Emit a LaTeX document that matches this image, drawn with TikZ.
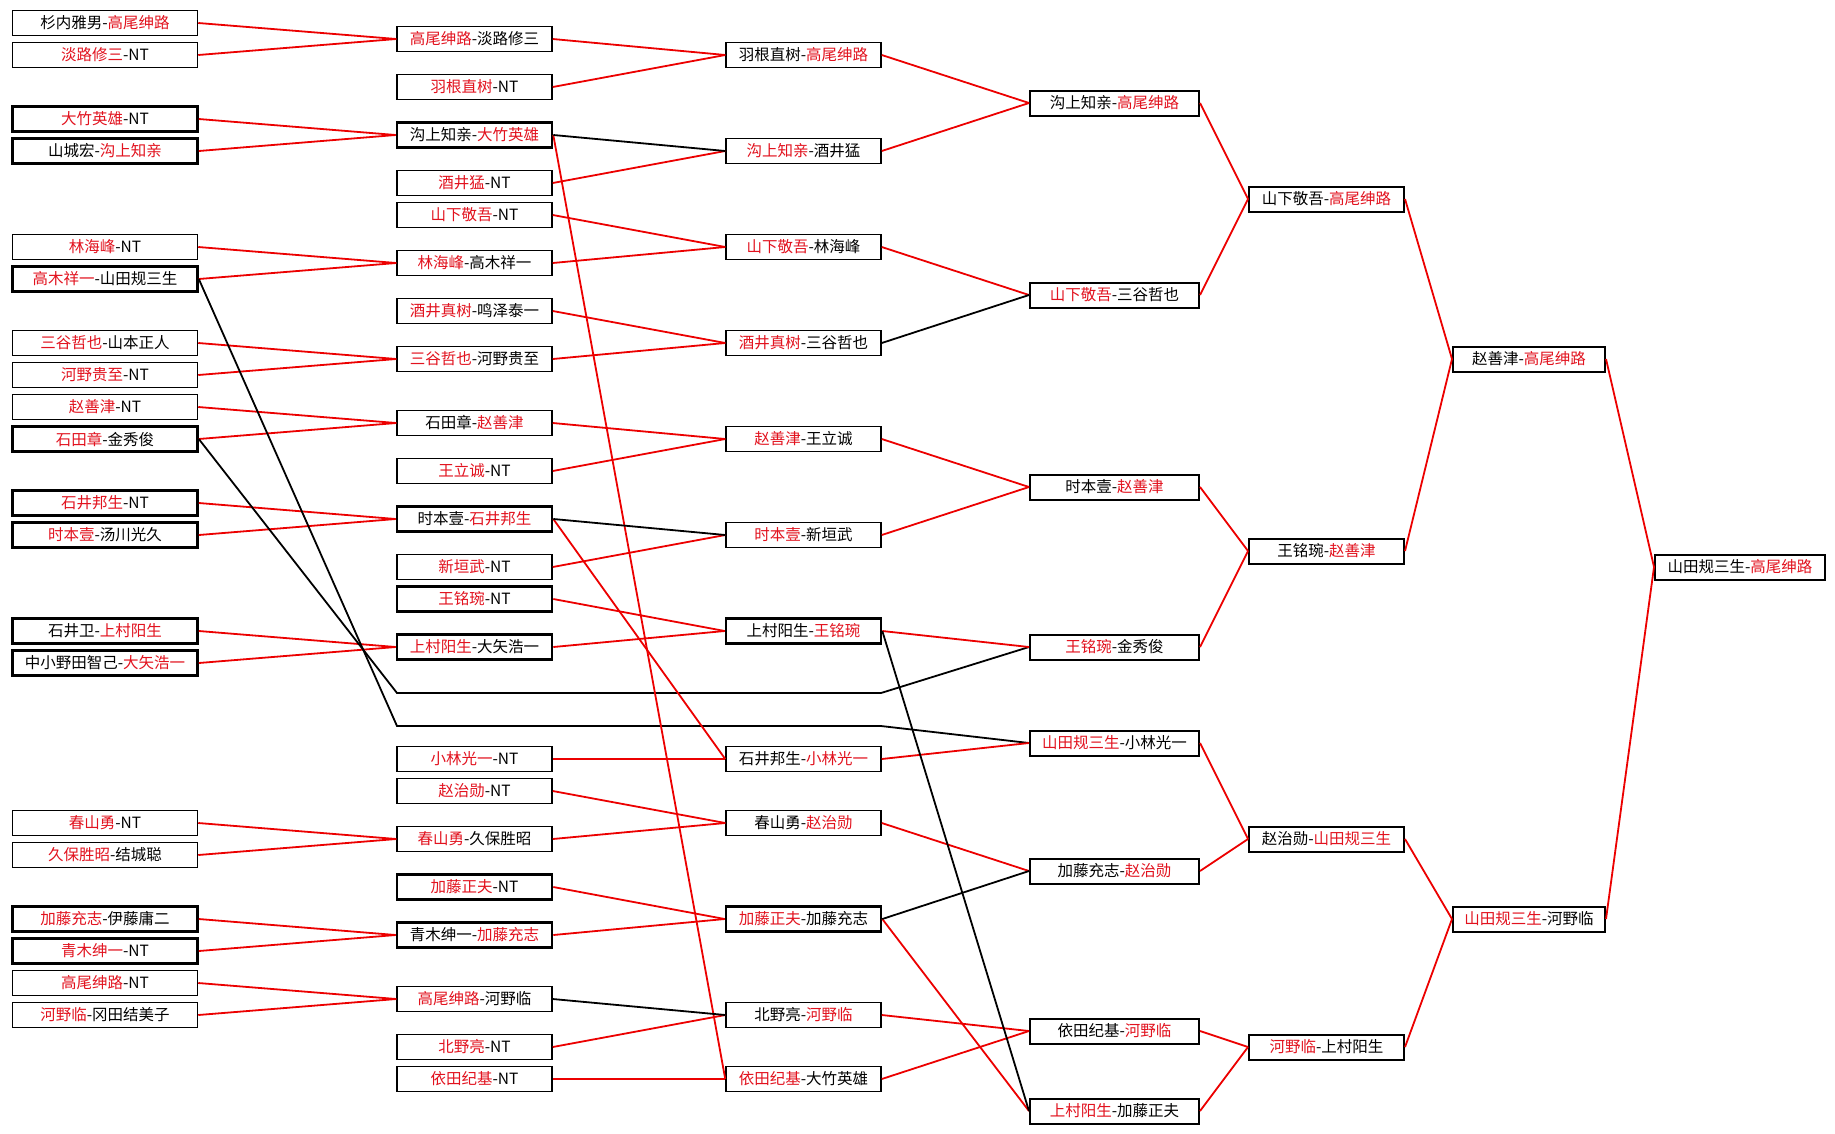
\documentclass[tikz,border=0pt]{standalone}
\usepackage{fontspec}
\setmainfont{Noto Sans CJK SC}
\definecolor{tred}{RGB}{226,18,30}
\definecolor{lred}{RGB}{236,0,0}
\newcommand{\R}[1]{\textcolor{tred}{#1}}
\begin{document}
\begin{tikzpicture}[x=1pt,y=-1pt,
  bx/.style={draw=black, fill=white, line width=1.5pt, minimum height=25pt, inner sep=0pt, font=\fontsize{15.5}{17}\selectfont},
  bxb/.style={bx, line width=2pt},
  thk/.style={line width=2.6pt},
  colA/.style={bx, minimum width=185pt},
  colB/.style={bx, minimum width=155pt},
  colC/.style={bx, minimum width=155pt},
  colD/.style={bxb, minimum width=169pt},
  colE/.style={bxb, minimum width=155pt},
  colF/.style={bxb, minimum width=152pt},
  colG/.style={bxb, minimum width=170pt},
  rl/.style={draw=lred, line width=1.8pt},
  kl/.style={draw=black, line width=1.8pt}]
\useasboundingbox[fill=white] (0,0) rectangle (1835,1133);

% column 1
\node[colA] (A1) at (105,23) {杉内雅男-\R{高尾绅路}};
\node[colA] (A2) at (105,55) {\R{淡路修三}-NT};
\node[colA,thk] (A3) at (105,119) {\R{大竹英雄}-NT};
\node[colA,thk] (A4) at (105,151) {山城宏-\R{沟上知亲}};
\node[colA] (A5) at (105,247) {\R{林海峰}-NT};
\node[colA,thk] (A6) at (105,279) {\R{高木祥一}-山田规三生};
\node[colA] (A7) at (105,343) {\R{三谷哲也}-山本正人};
\node[colA] (A8) at (105,375) {\R{河野贵至}-NT};
\node[colA] (A9) at (105,407) {\R{赵善津}-NT};
\node[colA,thk] (A10) at (105,439) {\R{石田章}-金秀俊};
\node[colA,thk] (A11) at (105,503) {\R{石井邦生}-NT};
\node[colA,thk] (A12) at (105,535) {\R{时本壹}-汤川光久};
\node[colA,thk] (A13) at (105,631) {石井卫-\R{上村阳生}};
\node[colA,thk] (A14) at (105,663) {中小野田智己-\R{大矢浩一}};
\node[colA] (A15) at (105,823) {\R{春山勇}-NT};
\node[colA] (A16) at (105,855) {\R{久保胜昭}-结城聪};
\node[colA,thk] (A17) at (105,919) {\R{加藤充志}-伊藤庸二};
\node[colA,thk] (A18) at (105,951) {\R{青木绅一}-NT};
\node[colA] (A19) at (105,983) {\R{高尾绅路}-NT};
\node[colA] (A20) at (105,1015) {\R{河野临}-冈田结美子};

% column 2
\node[colB] (B1) at (474.5,39) {\R{高尾绅路}-淡路修三};
\node[colB] (B2) at (474.5,87) {\R{羽根直树}-NT};
\node[colB,thk] (B3) at (474.5,135) {沟上知亲-\R{大竹英雄}};
\node[colB] (B4) at (474.5,183) {\R{酒井猛}-NT};
\node[colB] (B5) at (474.5,215) {\R{山下敬吾}-NT};
\node[colB] (B6) at (474.5,263) {\R{林海峰}-高木祥一};
\node[colB] (B7) at (474.5,311) {\R{酒井真树}-鸣泽泰一};
\node[colB] (B8) at (474.5,359) {\R{三谷哲也}-河野贵至};
\node[colB] (B9) at (474.5,423) {石田章-\R{赵善津}};
\node[colB] (B10) at (474.5,471) {\R{王立诚}-NT};
\node[colB,thk] (B11) at (474.5,519) {时本壹-\R{石井邦生}};
\node[colB] (B12) at (474.5,567) {\R{新垣武}-NT};
\node[colB,thk] (B13) at (474.5,599) {\R{王铭琬}-NT};
\node[colB,thk] (B14) at (474.5,647) {\R{上村阳生}-大矢浩一};
\node[colB] (B15) at (474.5,759) {\R{小林光一}-NT};
\node[colB] (B16) at (474.5,791) {\R{赵治勋}-NT};
\node[colB] (B17) at (474.5,839) {\R{春山勇}-久保胜昭};
\node[colB,thk] (B18) at (474.5,887) {\R{加藤正夫}-NT};
\node[colB,thk] (B19) at (474.5,935) {青木绅一-\R{加藤充志}};
\node[colB] (B20) at (474.5,999) {\R{高尾绅路}-河野临};
\node[colB] (B21) at (474.5,1047) {\R{北野亮}-NT};
\node[colB] (B22) at (474.5,1079) {\R{依田纪基}-NT};

% column 3
\node[colC] (C1) at (803.5,55) {羽根直树-\R{高尾绅路}};
\node[colC] (C2) at (803.5,151) {\R{沟上知亲}-酒井猛};
\node[colC] (C3) at (803.5,247) {\R{山下敬吾}-林海峰};
\node[colC] (C4) at (803.5,343) {\R{酒井真树}-三谷哲也};
\node[colC] (C5) at (803.5,439) {\R{赵善津}-王立诚};
\node[colC] (C6) at (803.5,535) {\R{时本壹}-新垣武};
\node[colC,thk] (C7) at (803.5,631) {上村阳生-\R{王铭琬}};
\node[colC] (C8) at (803.5,759) {石井邦生-\R{小林光一}};
\node[colC] (C9) at (803.5,823) {春山勇-\R{赵治勋}};
\node[colC,thk] (C10) at (803.5,919) {\R{加藤正夫}-加藤充志};
\node[colC] (C11) at (803.5,1015) {北野亮-\R{河野临}};
\node[colC] (C12) at (803.5,1079) {\R{依田纪基}-大竹英雄};

% column 4
\node[colD] (D1) at (1114.5,103) {沟上知亲-\R{高尾绅路}};
\node[colD] (D2) at (1114.5,295) {\R{山下敬吾}-三谷哲也};
\node[colD] (D3) at (1114.5,487) {时本壹-\R{赵善津}};
\node[colD] (D4) at (1114.5,647) {\R{王铭琬}-金秀俊};
\node[colD] (D5) at (1114.5,743) {\R{山田规三生}-小林光一};
\node[colD] (D6) at (1114.5,871) {加藤充志-\R{赵治勋}};
\node[colD] (D7) at (1114.5,1031) {依田纪基-\R{河野临}};
\node[colD] (D8) at (1114.5,1111) {\R{上村阳生}-加藤正夫};

% column 5
\node[colE] (E1) at (1326.5,199) {山下敬吾-\R{高尾绅路}};
\node[colE] (E2) at (1326.5,551) {王铭琬-\R{赵善津}};
\node[colE] (E3) at (1326.5,839) {赵治勋-\R{山田规三生}};
\node[colE] (E4) at (1326.5,1047) {\R{河野临}-上村阳生};

% column 6
\node[colF] (F1) at (1529,359) {赵善津-\R{高尾绅路}};
\node[colF] (F2) at (1529,919) {\R{山田规三生}-河野临};

% column 7
\node[colG] (G1) at (1740,567) {山田规三生-\R{高尾绅路}};

% bye paths
\coordinate (P1) at (397,726);
\coordinate (P2) at (881,726);
\coordinate (Q1) at (397,693);
\coordinate (Q2) at (881,693);

% round 1 -> 2
\foreach \s/\t in {A1/B1,A2/B1,A3/B3,A4/B3,A5/B6,A6/B6,A7/B8,A8/B8,A9/B9,A10/B9,A11/B11,A12/B11,A13/B14,A14/B14,A15/B17,A16/B17,A17/B19,A18/B19,A19/B20,A20/B20}
  \draw[rl] (\s.east) -- (\t.west);
\draw[kl] (A6.east) -- (P1) -- (P2) -- (D5.west);
\draw[kl] (A10.east) -- (Q1) -- (Q2) -- (D4.west);

% round 2 -> 3
\foreach \s/\t in {B1/C1,B2/C1,B4/C2,B5/C3,B6/C3,B7/C4,B8/C4,B9/C5,B10/C5,B12/C6,B13/C7,B14/C7,B15/C8,B11/C8,B16/C9,B17/C9,B18/C10,B19/C10,B21/C11,B22/C12,B3/C12}
  \draw[rl] (\s.east) -- (\t.west);
\foreach \s/\t in {B3/C2,B11/C6,B20/C11}
  \draw[kl] (\s.east) -- (\t.west);

% round 3 -> 4
\foreach \s/\t in {C1/D1,C2/D1,C3/D2,C5/D3,C6/D3,C7/D4,C8/D5,C9/D6,C10/D8,C11/D7,C12/D7}
  \draw[rl] (\s.east) -- (\t.west);
\foreach \s/\t in {C4/D2,C7/D8,C10/D6}
  \draw[kl] (\s.east) -- (\t.west);

% later rounds
\foreach \s/\t in {D1/E1,D2/E1,D3/E2,D4/E2,D5/E3,D6/E3,D7/E4,D8/E4,E1/F1,E2/F1,E3/F2,E4/F2,F1/G1,F2/G1}
  \draw[rl] (\s.east) -- (\t.west);
\end{tikzpicture}
\end{document}
